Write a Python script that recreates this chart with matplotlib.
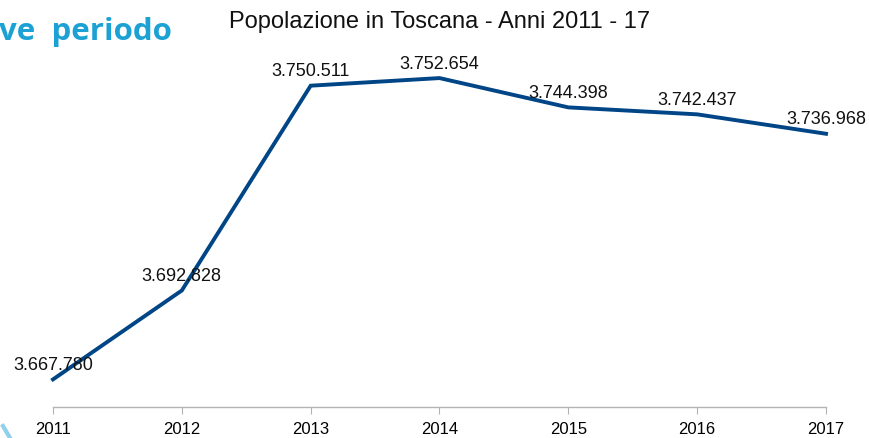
import matplotlib
matplotlib.use("Agg")
import matplotlib.pyplot as plt
from matplotlib.lines import Line2D

plt.rcParams['font.family'] = ['Liberation Sans', 'DejaVu Sans']

anni = [2011, 2012, 2013, 2014, 2015, 2016, 2017]
popolazione = [3667780, 3692828, 3750511, 3752654, 3744398, 3742437, 3736968]
etichette = ["3.667.780", "3.692.828", "3.750.511", "3.752.654",
             "3.744.398", "3.742.437", "3.736.968"]

W, H = 869, 438
fig = plt.figure(figsize=(W / 100, H / 100), dpi=100)
ax = fig.add_axes([53 / W, 1 - 407 / H, (826 - 53) / W, (407 - 52) / H])

ax.plot(anni, popolazione, color='#004586', lw=2.8, solid_joinstyle='miter', clip_on=False)
for a, p, t in zip(anni, popolazione, etichette):
    ax.annotate(t, (a, p), xytext=(0, 4), textcoords='offset points',
                ha='center', va='bottom', fontsize=13, color='#111111')

ax.set_xlim(2011, 2017)
ax.set_ylim(3660000, 3760000)
ax.set_xticks(anni)
ax.set_xticklabels([str(a) for a in anni], fontsize=12)
ax.set_yticks([])
for s in ['left', 'right', 'top']:
    ax.spines[s].set_visible(False)
ax.spines['bottom'].set_color('#b3b3b3')
ax.spines['bottom'].set_linewidth(1)
ax.tick_params(axis='x', direction='out', length=5, color='#b3b3b3', pad=6)

fig.text(440 / W, 1 - 22 / H, "Popolazione in Toscana - Anni 2011 - 17",
         ha='center', va='center', fontsize=17, color='#111111')
fig.text(172 / W, 1 - 40 / H, "ve  periodo", ha='right', va='baseline',
         fontsize=22.5, fontweight='bold', color='#1ba1d4', family='Open Sans')
fig.add_artist(Line2D([3 / W, 10 / W], [1 - 426 / H, 1 - 438 / H],
                      color='#8fd0ec', lw=3))

fig.savefig("out.png", dpi=100)
